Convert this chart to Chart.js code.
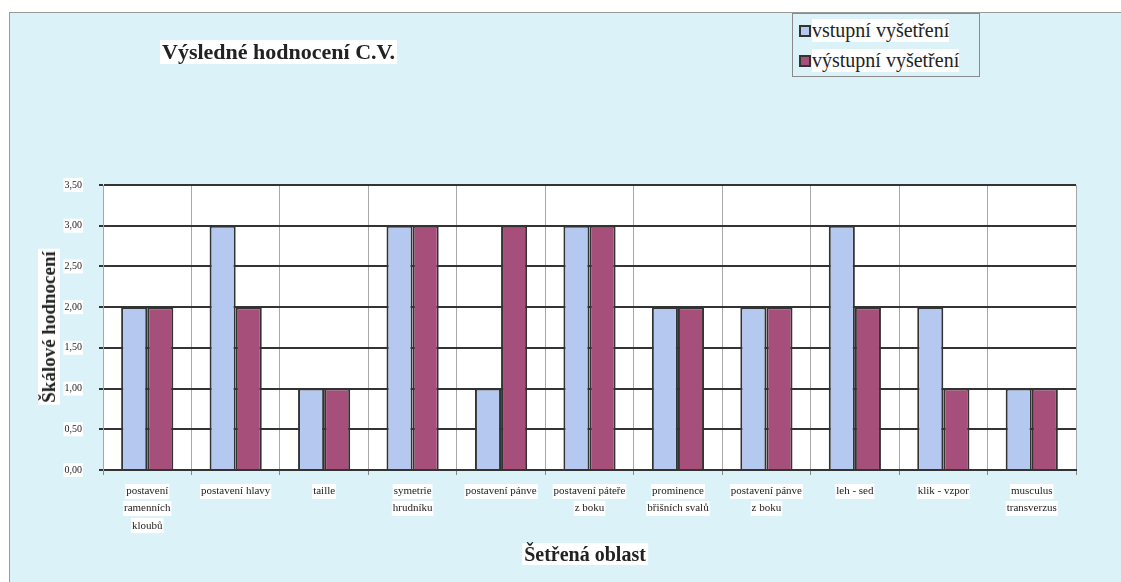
<!DOCTYPE html>
<html lang="cs">
<head>
<meta charset="utf-8">
<title>Výsledné hodnocení C.V.</title>
<script src="https://cdn.jsdelivr.net/npm/chart.js@4.4.1/dist/chart.umd.min.js"></script>
<style>
    html, body { margin: 0; padding: 0; background: #fff; }
    #page { position: relative; width: 1121px; height: 582px; overflow: hidden; font-family: "Liberation Serif", "DejaVu Serif", serif; }
    #panel { position: absolute; left: 9px; top: 12px; right: 0; bottom: 0; background: #dbf2f8; border-left: 1px solid #9a9a9a; border-top: 1px solid #9a9a9a; }
    #chart-wrap { position: absolute; left: 0; top: 0; width: 1121px; height: 582px; }
    .label { position: absolute; background: #fff; color: #222; font-weight: bold; font-size: 20px; line-height: 22px; padding: 0 2px; white-space: nowrap; }
    #title { left: 160px; top: 40px; font-size: 22px; line-height: 24px; }
    #x-title { left: 585px; top: 554px; transform: translate(-50%, -50%); }
    #y-title { left: 49px; top: 327px; font-size: 19px; transform: translate(-50%, -50%) rotate(-90deg); }
    #legend { position: absolute; left: 792px; top: 13px; width: 186px; height: 62px; border: 1px solid #8a8a8a; background: #dbf2f8; }
    .legend-item { display: flex; align-items: center; height: 27px; margin-top: 3px; padding-left: 6px; font-size: 20px; color: #222; }
    .legend-item span.box { width: 8px; height: 8px; border: 2px solid #333; margin-right: 1px; }
</style>
</head>
<body>
<div id="page">
    <div id="panel"></div>
    <div id="chart-wrap"><canvas id="hodnoceniChart" width="1121" height="582"></canvas></div>
    <div id="title" class="label">Výsledné hodnocení C.V.</div>
    <div id="y-title" class="label">Škálové hodnocení</div>
    <div id="x-title" class="label">Šetřená oblast</div>
    <div id="legend"></div>
</div>
<script>
const oblasti = [
    ['postavení', 'ramenních', 'kloubů'],
    'postavení hlavy',
    'taille',
    ['symetrie', 'hrudníku'],
    'postavení pánve',
    ['postavení páteře', 'z boku'],
    ['prominence', 'břišních svalů'],
    ['postavení pánve', 'z boku'],
    'leh - sed',
    'klik - vzpor',
    ['musculus', 'transverzus']
];
const vstupni = [2, 3, 1, 3, 1, 3, 2, 2, 3, 2, 1];
const vystupni = [2, 2, 1, 3, 3, 3, 2, 2, 2, 1, 1];
const yTickLabels = ['0,00', '0,50', '1,00', '1,50', '2,00', '2,50', '3,00', '3,50'];

const serif = '"Liberation Serif", "DejaVu Serif", serif';

// white plot background + white boxes behind each line of the category labels
const plotBackground = {
    id: 'plotBackground',
    beforeDraw(chart) {
        const a = chart.chartArea;
        const c = chart.ctx;
        c.save();
        c.fillStyle = '#ffffff';
        c.fillRect(a.left, a.top, a.right - a.left, a.bottom - a.top);

        const scale = chart.scales.x;
        const tickOpts = scale.options.ticks;
        const font = Chart.helpers.toFont(tickOpts.font);
        c.font = font.string;
        const top = scale.top + scale.options.grid.tickLength + tickOpts.padding;
        chart.data.labels.forEach(function(label, i) {
            const lines = [].concat(label);
            const x = scale.getPixelForTick(i);
            lines.forEach(function(line, j) {
                const w = c.measureText(line).width;
                c.fillRect(x - w / 2 - 1, top + j * font.lineHeight + 1, w + 2, font.lineHeight - 2);
            });
        });
        c.restore();
    }
};

const ctx = document.getElementById('hodnoceniChart').getContext('2d');
const chart = new Chart(ctx, {
    type: 'bar',
    data: {
        labels: oblasti,
        datasets: [{
            label: 'vstupní vyšetření',
            data: vstupni,
            backgroundColor: '#b5c9f0',
            borderColor: '#333333',
            borderWidth: 2
        }, {
            label: 'výstupní vyšetření',
            data: vystupni,
            backgroundColor: '#a54f7a',
            borderColor: '#333333',
            borderWidth: 2
        }]
    },
    options: {
        responsive: false,
        animation: false,
        events: [],
        layout: {
            padding: { left: 0, top: 185, right: 45, bottom: 0 }
        },
        datasets: {
            bar: {
                categoryPercentage: 0.59,
                barPercentage: 1.0
            }
        },
        plugins: {
            legend: { display: false },
            title: { display: false },
            tooltip: { enabled: false }
        },
        scales: {
            x: {
                offset: true,
                grid: {
                    offset: true,
                    color: '#a8a8a8',
                    lineWidth: 1,
                    tickLength: 5,
                    tickColor: '#888'
                },
                border: { color: '#333', width: 2 },
                ticks: {
                    color: '#222',
                    font: { family: serif, size: 11, lineHeight: 1.55 },
                    padding: 8,
                    maxRotation: 0,
                    autoSkip: false
                },
                afterFit(scale) { scale.height = 112; }
            },
            y: {
                min: 0,
                max: 3.5,
                grid: {
                    color: '#333',
                    lineWidth: 2,
                    tickLength: 4
                },
                border: { color: '#a8a8a8', width: 1 },
                ticks: {
                    stepSize: 0.5,
                    color: '#222',
                    font: { family: serif, size: 10 },
                    padding: 17,
                    showLabelBackdrop: true,
                    backdropColor: '#ffffff',
                    backdropPadding: 1,
                    callback: function(value, index) {
                        return yTickLabels[index];
                    }
                },
                afterFit(scale) { scale.width = 103; }
            }
        }
    },
    plugins: [plotBackground]
});

// legend built from the datasets
const legend = document.getElementById('legend');
chart.data.datasets.forEach(function(ds) {
    const item = document.createElement('div');
    item.className = 'legend-item';
    const box = document.createElement('span');
    box.className = 'box';
    box.style.background = ds.backgroundColor;
    item.appendChild(box);
    const text = document.createElement('span');
    text.textContent = ds.label;
    text.style.background = '#fff';
    item.appendChild(text);
    legend.appendChild(item);
});
</script>
</body>
</html>
